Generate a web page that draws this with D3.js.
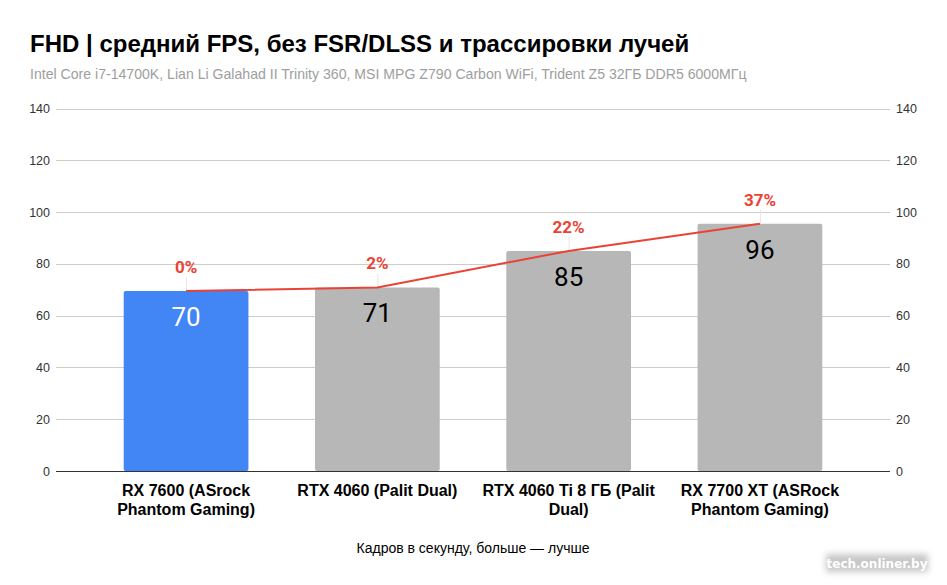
<!DOCTYPE html>
<html>
<head>
<meta charset="utf-8">
<script src="https://cdn.jsdelivr.net/npm/d3@7/dist/d3.min.js"></script>
<style>
  html, body { margin: 0; padding: 0; background: #fff; }
  svg { display: block; }
</style>
</head>
<body>
<svg id="chart" width="947" height="585"></svg>
<script>
// ---- data ----
const categories = [
  "RX 7600 (ASrock Phantom Gaming)",
  "RTX 4060 (Palit Dual)",
  "RTX 4060 Ti 8 ГБ (Palit Dual)",
  "RX 7700 XT (ASRock Phantom Gaming)"
];
const fpsValues = [69.5, 70.9, 85.0, 95.5];
const valueLabels = ["70", "71", "85", "96"];
const percentLabels = ["0%", "2%", "22%", "37%"];
const barColors = ["#4285f4", "#b7b7b7", "#b7b7b7", "#b7b7b7"];
const valueLabelColors = ["#ffffff", "#000000", "#000000", "#000000"];
const yTicks = [0, 20, 40, 60, 80, 100, 120, 140];
const titleText = "FHD | средний FPS, без FSR/DLSS и трассировки лучей";
const subtitleText = "Intel Core i7-14700K, Lian Li Galahad II Trinity 360, MSI MPG Z790 Carbon WiFi, Trident Z5 32ГБ DDR5 6000МГц";
const xAxisTitle = "Кадров в секунду, больше — лучше";
const watermark = "tech.onliner.by";

(function () {
// ---- layout ----
const svg = d3.select("#chart");
const plotLeft = 56, plotRight = 890, plotTop = 108.5, plotBottom = 471;

const x = d3.scaleBand().domain(categories).range([plotLeft, plotRight])
  .paddingInner(0.348).paddingOuter(0.354);
const y = d3.scaleLinear().domain([0, 140]).range([plotBottom, plotTop]);

// title / subtitle
svg.append("text").attr("x", 30).attr("y", 52)
  .attr("font-family", "Liberation Sans, Arial, sans-serif")
  .attr("font-weight", "bold").attr("font-size", 24).attr("fill", "#000")
  .text(titleText);
svg.append("text").attr("x", 30).attr("y", 79)
  .attr("font-family", "Liberation Sans, Arial, sans-serif")
  .attr("font-size", 14.1).attr("fill", "#9e9e9e")
  .text(subtitleText);

// gridlines
const grid = svg.append("g");
grid.selectAll("line").data(yTicks.filter(d => d !== 0)).join("line")
  .attr("x1", plotLeft).attr("x2", plotRight)
  .attr("y1", d => Math.round(y(d)) + 0.5).attr("y2", d => Math.round(y(d)) + 0.5)
  .attr("stroke", "#cccccc").attr("stroke-width", 1);

// left axis
const leftAxis = svg.append("g").attr("transform", `translate(${plotLeft},0)`)
  .call(d3.axisLeft(y).tickValues(yTicks).tickSize(0).tickPadding(6));
leftAxis.select(".domain").remove();
leftAxis.selectAll("text").attr("font-family", "Liberation Sans, Arial, sans-serif")
  .attr("font-size", 12.5).attr("fill", "#333");

// right axis
const rightAxis = svg.append("g").attr("transform", `translate(${plotRight},0)`)
  .call(d3.axisRight(y).tickValues(yTicks).tickSize(0).tickPadding(6));
rightAxis.select(".domain").remove();
rightAxis.selectAll("text").attr("font-family", "Liberation Sans, Arial, sans-serif")
  .attr("font-size", 12.5).attr("fill", "#333");

// bars
svg.append("g").selectAll("rect").data(categories).join("rect")
  .attr("x", d => x(d)).attr("width", x.bandwidth())
  .attr("y", (d, i) => y(fpsValues[i]))
  .attr("height", (d, i) => y(0) - y(fpsValues[i]))
  .attr("rx", 2).attr("ry", 2)
  .attr("fill", (d, i) => barColors[i]);

// baseline
svg.append("line").attr("x1", plotLeft).attr("x2", plotRight)
  .attr("y1", Math.round(y(0)) + 0.5).attr("y2", Math.round(y(0)) + 0.5)
  .attr("stroke", "#333").attr("stroke-width", 1);

// value labels inside bars
svg.append("g").selectAll("text").data(categories).join("text")
  .attr("x", d => x(d) + x.bandwidth() / 2)
  .attr("y", (d, i) => y(fpsValues[i]) + 35)
  .attr("text-anchor", "middle")
  .attr("font-family", "Roboto, sans-serif").attr("font-size", 26)
  .attr("fill", (d, i) => valueLabelColors[i])
  .text((d, i) => valueLabels[i]);

// leader lines for percentage labels
svg.append("g").selectAll("line").data(categories).join("line")
  .attr("x1", d => x(d) + x.bandwidth() / 2 + 0.5)
  .attr("x2", d => x(d) + x.bandwidth() / 2 + 0.5)
  .attr("y1", (d, i) => y(fpsValues[i]) - 14)
  .attr("y2", (d, i) => y(fpsValues[i]))
  .attr("stroke", "#e6e6e6").attr("stroke-width", 1);

// red line
const line = d3.line()
  .x((d, i) => x(categories[i]) + x.bandwidth() / 2)
  .y(d => y(d));
svg.append("path").datum(fpsValues)
  .attr("d", line).attr("fill", "none")
  .attr("stroke", "#ea4335").attr("stroke-width", 2);

// percent labels
svg.append("g").selectAll("text").data(categories).join("text")
  .attr("x", d => x(d) + x.bandwidth() / 2)
  .attr("y", (d, i) => y(fpsValues[i]) - 18)
  .attr("text-anchor", "middle")
  .attr("font-family", "Roboto, sans-serif").attr("font-weight", "bold")
  .attr("font-size", 17).attr("fill", "#ea4335")
  .text((d, i) => percentLabels[i]);

// x category labels (wrapped)
const xl = svg.append("g");
categories.forEach((c, i) => {
  const cx = x(c) + x.bandwidth() / 2;
  const t = xl.append("text")
    .attr("x", cx).attr("y", 496)
    .attr("text-anchor", "middle")
    .attr("font-family", "Liberation Sans, Arial, sans-serif")
    .attr("font-weight", "bold").attr("font-size", 16).attr("fill", "#000");
  const words = c.split(" ");
  let lineWords = [];
  let tspan = t.append("tspan").attr("x", cx).attr("dy", 0);
  words.forEach(w => {
    lineWords.push(w);
    tspan.text(lineWords.join(" "));
    if (tspan.node().getComputedTextLength() > 182 && lineWords.length > 1) {
      lineWords.pop();
      tspan.text(lineWords.join(" "));
      lineWords = [w];
      tspan = t.append("tspan").attr("x", cx).attr("dy", 18.5).text(w);
    }
  });
});

// x axis title
svg.append("text").attr("x", (plotLeft + plotRight) / 2).attr("y", 553)
  .attr("text-anchor", "middle")
  .attr("font-family", "Liberation Sans, Arial, sans-serif")
  .attr("font-size", 14).attr("fill", "#000")
  .text(xAxisTitle);

// watermark
const defs = svg.append("defs");
defs.append("filter").attr("id", "blur").attr("x", "-20%").attr("y", "-50%")
  .attr("width", "140%").attr("height", "200%")
  .append("feGaussianBlur").attr("stdDeviation", 3);
svg.append("rect").attr("x", 826).attr("y", 554).attr("width", 102).attr("height", 18)
  .attr("fill", "#c8c8c8").attr("filter", "url(#blur)");
svg.append("text").attr("x", 877).attr("y", 568)
  .attr("text-anchor", "middle")
  .attr("font-family", "DejaVu Sans, sans-serif").attr("font-weight", "bold")
  .attr("font-size", 12).attr("fill", "#ffffff")
  .text(watermark);
})();
</script>
</body>
</html>
